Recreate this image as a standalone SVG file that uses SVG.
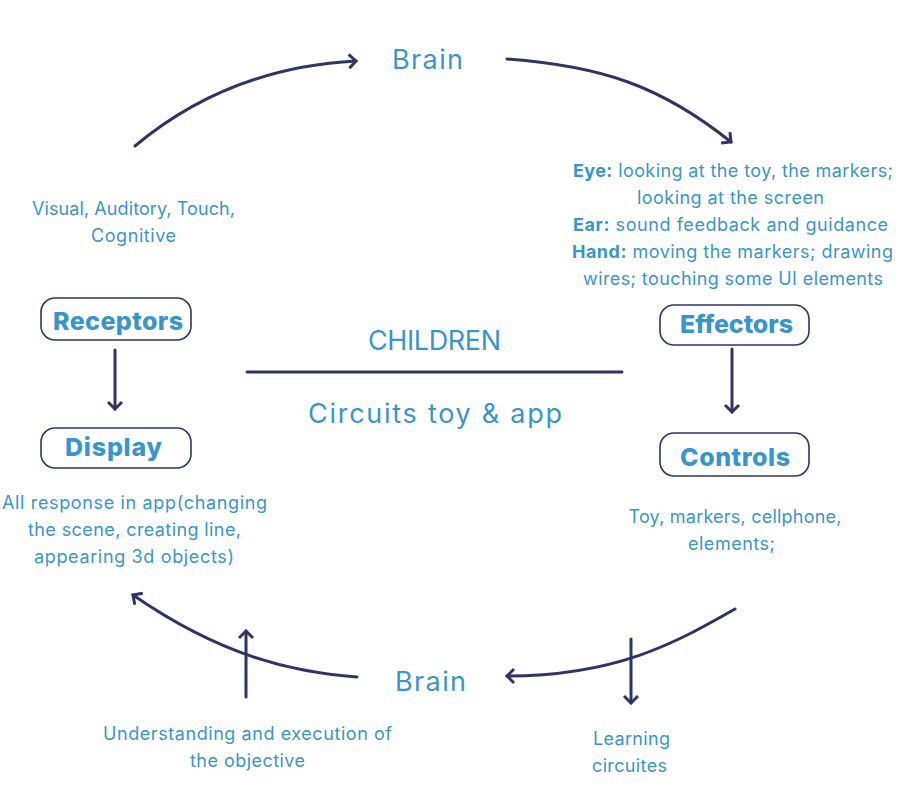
<svg xmlns="http://www.w3.org/2000/svg" width="913" height="797" viewBox="0 0 913 797">
<defs>
<style>
.t{font-family:Inter,"Open Sans","Liberation Sans",sans-serif;fill:#3a95cb;text-anchor:middle}
.s{font-size:18px}
.b{font-size:25px;font-weight:800}
.h{font-size:27px}
.k{font-weight:700}
.box{fill:#fff;stroke:#2e3466;stroke-width:1.6}
.ln{fill:none;stroke:#2e3466;stroke-width:3;stroke-linecap:round}
</style>
<marker id="ah" markerUnits="userSpaceOnUse" markerWidth="20" markerHeight="20" refX="10" refY="10" orient="auto" viewBox="0 0 20 20">
<path d="M3,3 L10,10 L3,17" fill="none" stroke="#2e3466" stroke-width="3"/>
</marker>
</defs>
<rect width="913" height="797" fill="#fff"/>

<g id="connectors">
<path class="ln" d="M135,146 C190,100 260,66 356,61" marker-end="url(#ah)"/>
<path class="ln" d="M507,59 C600,66 660,85 731,142" marker-end="url(#ah)"/>
<path class="ln" d="M735,609 C680,640 620,676 507,676" marker-end="url(#ah)"/>
<path class="ln" d="M357,677 C290,672 220,655 133,595" marker-end="url(#ah)"/>
<path class="ln" d="M115,350 L115,409" marker-end="url(#ah)"/>
<path class="ln" d="M732,349 L732,412" marker-end="url(#ah)"/>
<path class="ln" d="M631,639 L631,703" marker-end="url(#ah)"/>
<path class="ln" d="M246,697 L246,631" marker-end="url(#ah)"/>
<path class="ln" d="M247,372 L622,372" stroke-linecap="butt"/>
</g>

<g id="brain-top"><text class="t h" x="427.5" y="69" textLength="71" lengthAdjust="spacing">Brain</text></g>
<g id="brain-bottom"><text class="t h" x="430.5" y="691" textLength="71" lengthAdjust="spacing">Brain</text></g>
<g id="children"><text class="t h" x="434.5" y="350" textLength="133" lengthAdjust="spacing">CHILDREN</text></g>
<g id="circuits"><text class="t h" x="435" y="423" textLength="254" lengthAdjust="spacing">Circuits toy &amp; app</text></g>

<g id="receptors">
<rect class="box" x="41" y="298" width="150" height="42" rx="14"/>
<text class="t b" x="118" y="330" textLength="130" lengthAdjust="spacing">Receptors</text>
</g>
<g id="display">
<rect class="box" x="41" y="428" width="150" height="40" rx="14"/>
<text class="t b" x="113.5" y="456" textLength="97" lengthAdjust="spacing">Display</text>
</g>
<g id="effectors">
<rect class="box" x="660" y="305" width="149" height="40" rx="14"/>
<text class="t b" x="736.5" y="333" textLength="113" lengthAdjust="spacing">Effectors</text>
</g>
<g id="controls">
<rect class="box" x="660" y="433" width="149" height="43" rx="14"/>
<text class="t b" x="735" y="466" textLength="110" lengthAdjust="spacing">Controls</text>
</g>

<g id="receptor-text">
<text class="t s" x="133.5" y="215" textLength="203" lengthAdjust="spacing">Visual, Auditory, Touch,</text>
<text class="t s" x="133.5" y="242" textLength="85" lengthAdjust="spacing">Cognitive</text>
</g>
<g id="effector-text">
<text class="t s" x="733" y="177" textLength="320" lengthAdjust="spacing"><tspan class="k">Eye:</tspan> looking at the toy, the markers;</text>
<text class="t s" x="730.5" y="204" textLength="187" lengthAdjust="spacing">looking at the screen</text>
<text class="t s" x="730.5" y="231" textLength="315" lengthAdjust="spacing"><tspan class="k">Ear:</tspan> sound feedback and guidance</text>
<text class="t s" x="732.5" y="258" textLength="321" lengthAdjust="spacing"><tspan class="k">Hand:</tspan> moving the markers; drawing</text>
<text class="t s" x="733" y="285" textLength="300" lengthAdjust="spacing">wires; touching some UI elements</text>
</g>
<g id="controls-text">
<text class="t s" x="735" y="523" textLength="213" lengthAdjust="spacing">Toy, markers, cellphone,</text>
<text class="t s" x="731.5" y="550" textLength="87" lengthAdjust="spacing">elements;</text>
</g>
<g id="display-text">
<text class="t s" x="134.5" y="509" textLength="265" lengthAdjust="spacing">All response in app(changing</text>
<text class="t s" x="134.5" y="536" textLength="213" lengthAdjust="spacing">the scene, creating line,</text>
<text class="t s" x="134" y="563" textLength="200" lengthAdjust="spacing">appearing 3d objects)</text>
</g>
<g id="brain-text">
<text class="t s" x="247.5" y="740" textLength="289" lengthAdjust="spacing">Understanding and execution of</text>
<text class="t s" x="247.5" y="767" textLength="115" lengthAdjust="spacing">the objective</text>
</g>
<g id="learning-text">
<text class="t s" x="631.5" y="745" textLength="77" lengthAdjust="spacing">Learning</text>
<text class="t s" x="629.5" y="772" textLength="75" lengthAdjust="spacing">circuites</text>
</g>
</svg>
